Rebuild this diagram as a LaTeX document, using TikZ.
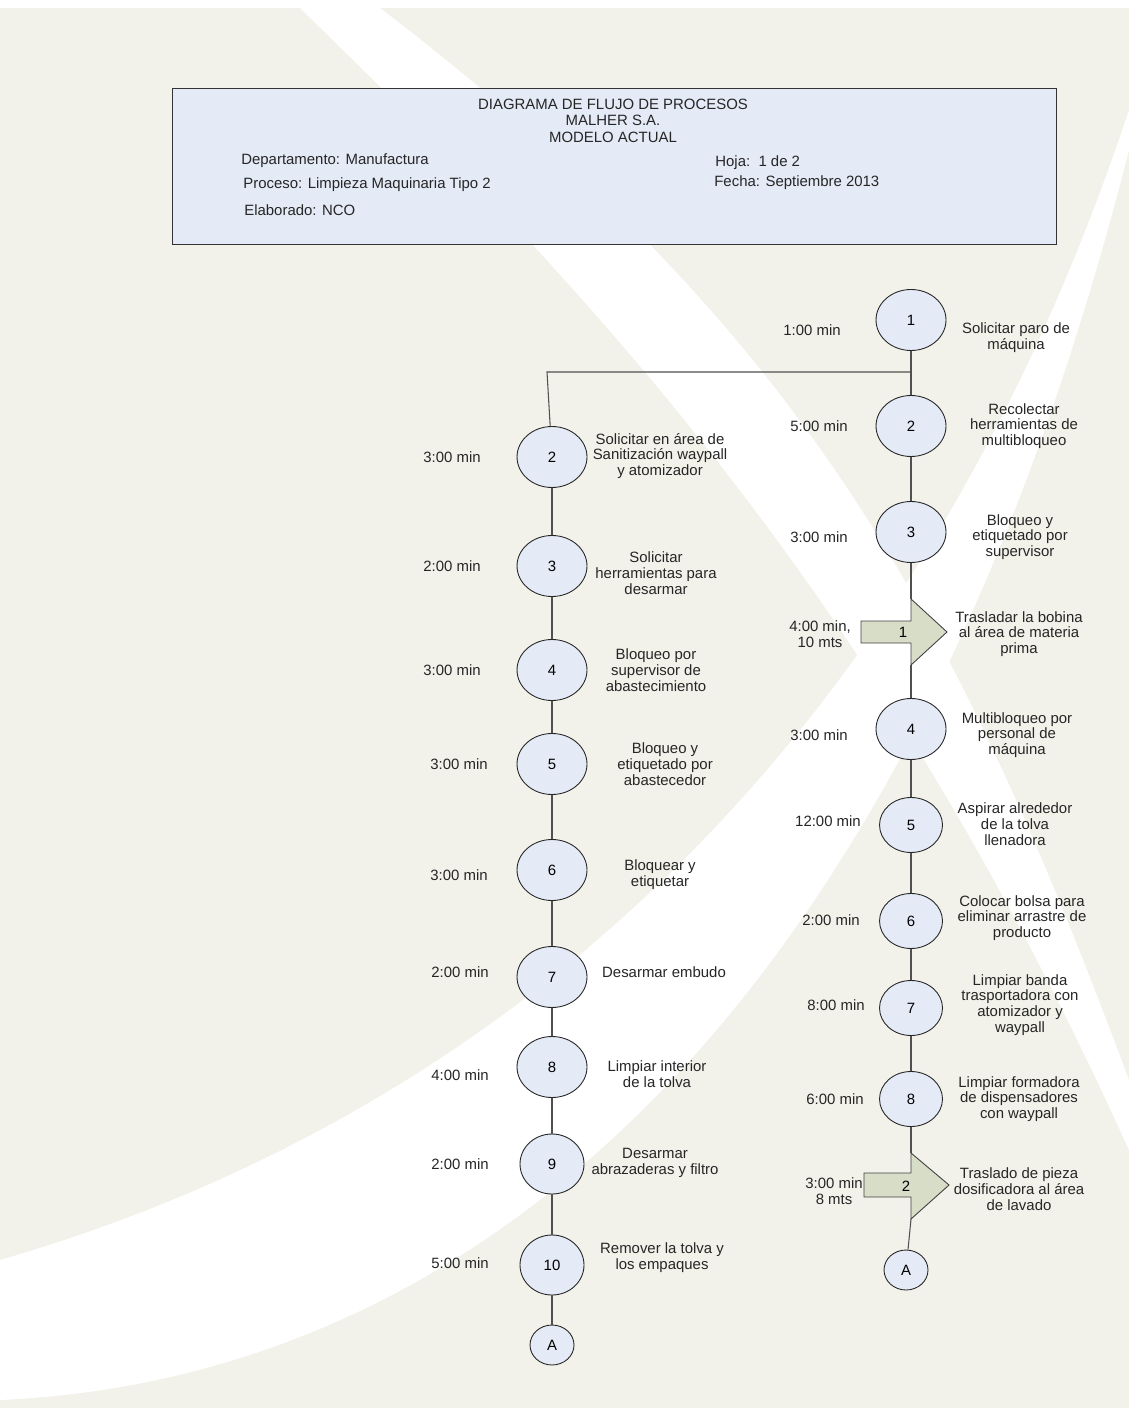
\documentclass[tikz,border=0pt]{standalone}
\usepackage{fontspec}
\setmainfont{Liberation Sans}
\usepackage{tikz}
\usetikzlibrary{shapes.geometric}
\usepackage{xcolor}
\definecolor{fondo}{RGB}{242,242,234}
\definecolor{celeste}{RGB}{228,234,246}
\definecolor{verdoso}{RGB}{216,221,200}
\definecolor{gris}{RGB}{80,80,80}
\tikzset{
  paso/.style={ellipse, draw=black!85, fill=celeste, line width=0.5pt, inner sep=0pt, minimum width=1.4cm, minimum height=1.22cm},
  pasomedio/.style={paso, minimum width=1.28cm, minimum height=1.2cm},
  pasochico/.style={paso, minimum width=1.26cm, minimum height=1.1cm},
  conector/.style={paso, minimum width=0.88cm, minimum height=0.8cm},
  texto/.style={align=center, text=black!85, inner sep=0pt},
  dato/.style={anchor=west, text=black!85, inner sep=0pt},
  linea/.style={draw=gris, line width=0.6pt},
  traslado/.style={draw=black!75, fill=verdoso, line width=0.5pt}
}

\begin{document}
\begin{tikzpicture}[x=0.02cm, y=-0.02cm, font=\fontsize{8.5}{9}\selectfont]
    % Parametri
    \pgfmathsetmacro{\xder}{911}
    \pgfmathsetmacro{\xizq}{552}

    % Fondo
    \fill[fondo] (0,0) rectangle (1129,1408);
    \fill[white] (0,0) rectangle (1129,8);
    \fill[white] (300,8) .. controls (600,300) and (880,600) .. (1129,1150) -- (1129,1080) .. controls (950,600) and (800,330) .. (380,8) -- cycle;
    \fill[white] (0,1400) .. controls (450,1380) and (900,1050) .. (1129,150) -- (1129,110) .. controls (900,800) and (450,1130) .. (0,1260) -- cycle;
    \useasboundingbox (0,0) rectangle (1129,1408);

    % Encabezado
    \node[draw=black!80, fill=celeste, line width=0.5pt, minimum width=17.7cm, minimum height=3.12cm, inner sep=0pt] (cab) at (614.5,166) {};
    \node[texto] (tit1) at (613,104) {DIAGRAMA DE FLUJO DE PROCESOS};
    \node[texto] (tit2) at (613,120) {MALHER S.A.};
    \node[texto] (tit3) at (613,137) {MODELO ACTUAL};
    \node[dato] (dep) at (241,161) {Departamento: Manufactura};
    \node[dato] (pro) at (243,185) {Proceso: Limpieza Maquinaria Tipo 2};
    \node[dato] (ela) at (244,210) {Elaborado: NCO};
    \node[dato] (hoj) at (715,163) {Hoja:\ \ 1 de 2};
    \node[dato] (fec) at (714,183) {Fecha: Septiembre 2013};

    % Columna derecha
    \node[paso] (d1) at (\xder,320) {1};
    \node[paso] (d2) at (\xder,426) {2};
    \node[paso] (d3) at (\xder,532) {3};
    \node[paso] (d4) at (\xder,729) {4};
    \node[pasochico] (d5) at (\xder,825) {5};
    \node[pasochico] (d6) at (\xder,921) {6};
    \node[pasochico] (d7) at (\xder,1008) {7};
    \node[pasochico] (d8) at (\xder,1099) {8};
    \node[conector] (dA) at (906,1270) {A};

    % traslado 1
    \coordinate (t1a) at (\xder,599);
    \coordinate (t1b) at (\xder,665);
    \draw[traslado] (861,621) -- (\xder,621) -- (t1a) -- (947,632) -- (t1b) -- (\xder,643) -- (861,643) -- cycle;
    \node (t1) at (903,632) {1};
    % traslado 2
    \coordinate (t2a) at (\xder,1153);
    \coordinate (t2b) at (\xder,1219);
    \draw[traslado] (864,1173) -- (\xder,1173) -- (t2a) -- (949,1185) -- (t2b) -- (\xder,1197) -- (864,1197) -- cycle;
    \node (t2) at (906,1186) {2};

    % Columna izquierda
    \node[paso] (i2) at (\xizq,457) {2};
    \node[paso] (i3) at (\xizq,566) {3};
    \node[paso] (i4) at (\xizq,670) {4};
    \node[paso] (i5) at (\xizq,764) {5};
    \node[paso] (i6) at (\xizq,870) {6};
    \node[paso] (i7) at (\xizq,977) {7};
    \node[paso] (i8) at (\xizq,1067) {8};
    \node[pasomedio] (i9) at (\xizq,1164) {9};
    \node[pasomedio] (i10) at (\xizq,1265) {10};
    \node[conector] (iA) at (\xizq,1345) {A};

    % Lineas
    \coordinate (cruce) at (\xder,372);
    \coordinate (esquina) at (547,372);
    \draw[linea] (d1) -- (cruce) -- (d2);
    \draw[linea] (cruce) -- (esquina) -- (i2);
    \draw[linea] (d2) -- (d3);
    \draw[linea] (d3) -- (t1a);
    \draw[linea] (t1b) -- (d4);
    \foreach \a/\b in {d4/d5, d5/d6, d6/d7, d7/d8}
        \draw[linea] (\a) -- (\b);
    \draw[linea] (d8) -- (t2a);
    \draw[linea] (t2b) -- (dA);
    \foreach \a/\b in {i2/i3, i3/i4, i4/i5, i5/i6, i6/i7, i7/i8, i8/i9, i9/i10, i10/iA}
        \draw[linea] (\a) -- (\b);

    % Tiempos derecha
    \node[texto] (md1) at (812,330) {1:00 min};
    \node[texto] (md2) at (819,426) {5:00 min};
    \node[texto] (md3) at (819,537) {3:00 min};
    \node[texto] (mt1) at (820,634) {4:00 min,\\10 mts};
    \node[texto] (md4) at (819,735) {3:00 min};
    \node[texto] (md5) at (828,821) {12:00 min};
    \node[texto] (md6) at (831,920) {2:00 min};
    \node[texto] (md7) at (836,1005) {8:00 min};
    \node[texto] (md8) at (835,1099) {6:00 min};
    \node[texto] (mt2) at (834,1191) {3:00 min\\8 mts};

    % Tiempos izquierda
    \node[texto] (mi2) at (452,457) {3:00 min};
    \node[texto] (mi3) at (452,566) {2:00 min};
    \node[texto] (mi4) at (452,670) {3:00 min};
    \node[texto] (mi5) at (459,764) {3:00 min};
    \node[texto] (mi6) at (459,875) {3:00 min};
    \node[texto] (mi7) at (460,972) {2:00 min};
    \node[texto] (mi8) at (460,1075) {4:00 min};
    \node[texto] (mi9) at (460,1164) {2:00 min};
    \node[texto] (mi10) at (460,1263) {5:00 min};

    % Actividades derecha
    \node[texto] (ad1) at (1016,338) {Solicitar paro de\\máquina};
    \node[texto] (ad2) at (1024,426) {Recolectar\\herramientas de\\multibloqueo};
    \node[texto] (ad3) at (1020,537) {Bloqueo y\\etiquetado por\\supervisor};
    \node[texto] (at1) at (1019,634) {Trasladar la bobina\\al área de materia\\prima};
    \node[texto] (ad4) at (1017,735) {Multibloqueo por\\personal de\\máquina};
    \node[texto] (ad5) at (1015,824) {Aspirar alrededor\\de la tolva\\llenadora};
    \node[texto] (ad6) at (1022,918) {Colocar bolsa para\\eliminar arrastre de\\producto};
    \node[texto] (ad7) at (1020,1005) {Limpiar banda\\trasportadora con\\atomizador y\\waypall};
    \node[texto] (ad8) at (1019,1099) {Limpiar formadora\\de dispensadores\\con waypall};
    \node[texto] (at2) at (1019,1189) {Traslado de pieza\\dosificadora al área\\de lavado};

    % Actividades izquierda
    \node[texto] (ai2) at (660,456) {Solicitar en área de\\Sanitización waypall\\y atomizador};
    \node[texto] (ai3) at (656,573) {Solicitar\\herramientas para\\desarmar};
    \node[texto] (ai4) at (656,670) {Bloqueo por\\supervisor de\\abastecimiento};
    \node[texto] (ai5) at (665,764) {Bloqueo y\\etiquetado por\\abastecedor};
    \node[texto] (ai6) at (660,875) {Bloquear y\\etiquetar};
    \node[texto] (ai7) at (664,972) {Desarmar embudo};
    \node[texto] (ai8) at (657,1074) {Limpiar interior\\de la tolva};
    \node[texto] (ai9) at (655,1163) {Desarmar\\abrazaderas y filtro};
    \node[texto] (ai10) at (662,1258) {Remover la tolva y\\los empaques};
\end{tikzpicture}
\end{document}
